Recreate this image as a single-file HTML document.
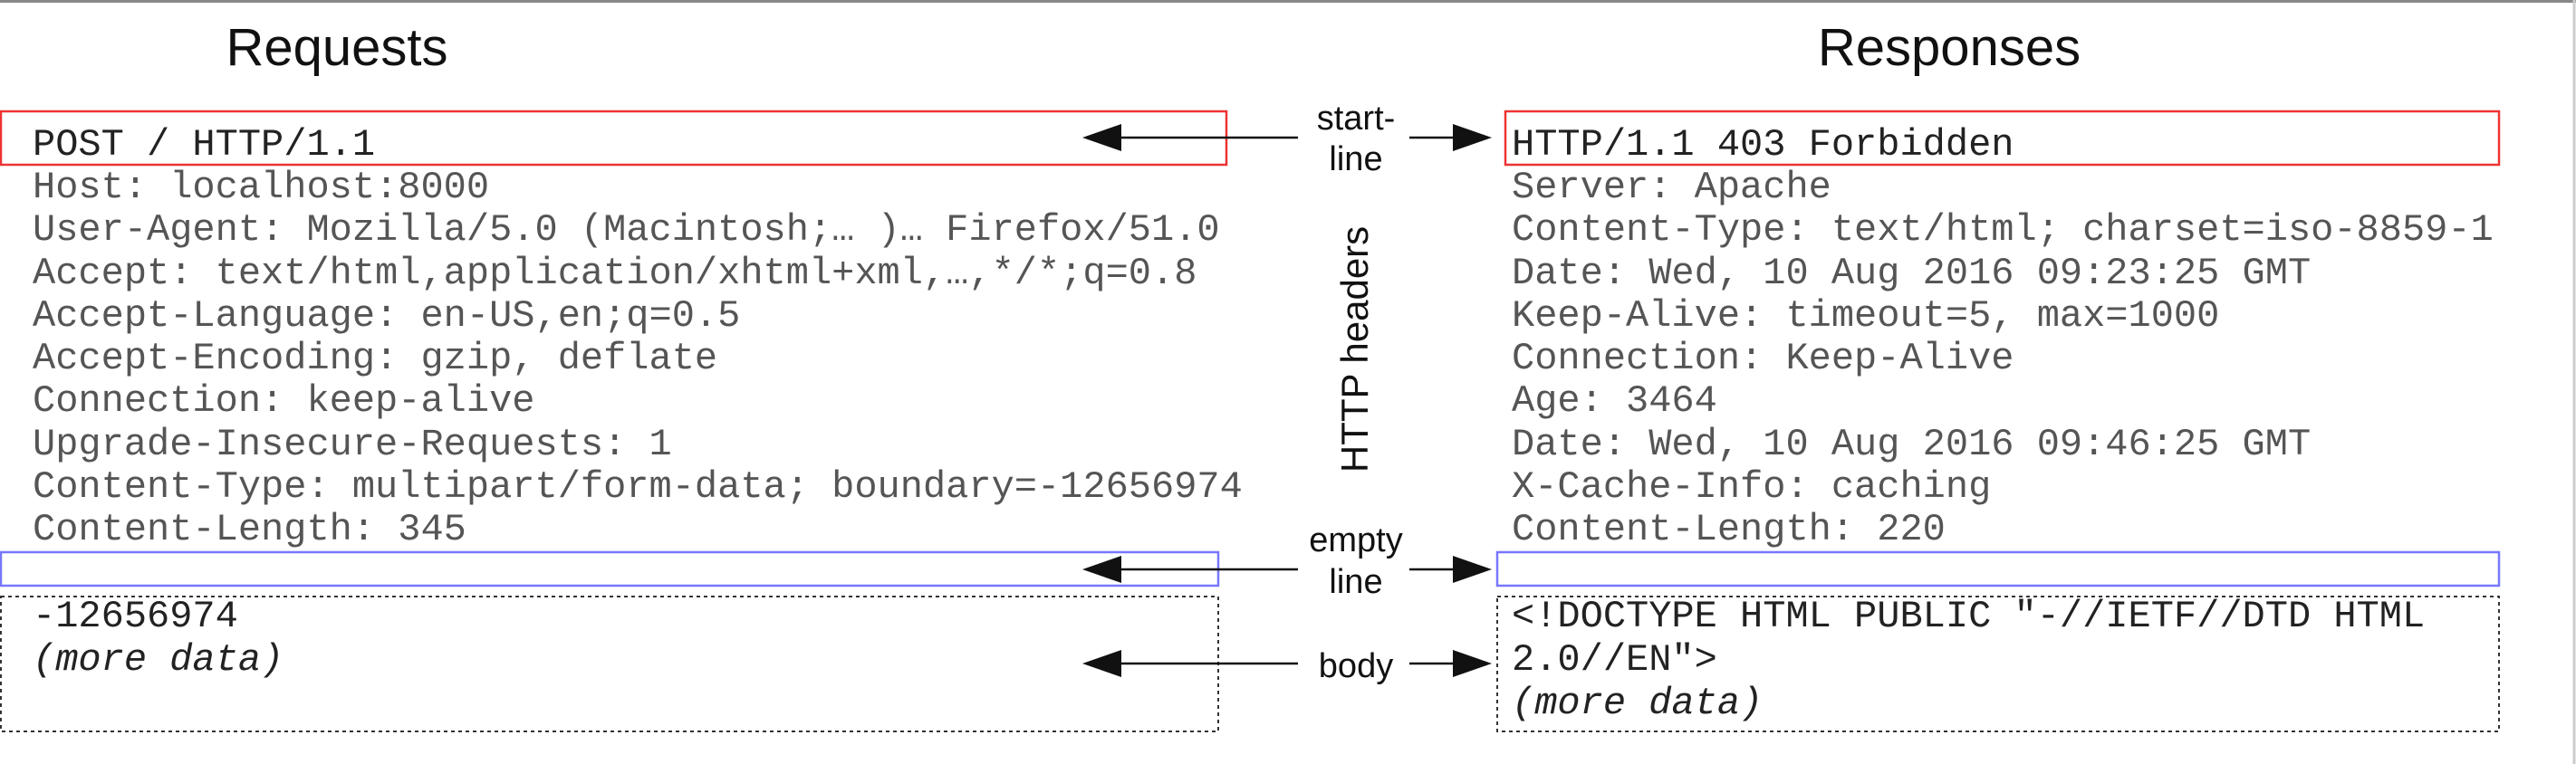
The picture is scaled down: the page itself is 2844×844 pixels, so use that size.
<!DOCTYPE html>
<html><head><meta charset="utf-8"><style>
html,body{margin:0;padding:0;background:#fff;}
svg{display:block;}
text{white-space:pre;}
.m{font-family:"Liberation Mono",monospace;font-size:42px;fill:#555;}
.d{fill:#222;}
.s{font-family:"Liberation Sans",sans-serif;fill:#111;}
</style></head><body>
<svg width="2844" height="844" viewBox="0 0 2844 844" xmlns="http://www.w3.org/2000/svg" xml:space="preserve">
<rect x="0" y="0" width="2844" height="844" fill="#fff"/>
<line x1="0" y1="1.5" x2="2844" y2="1.5" stroke="#888" stroke-width="3"/>
<line x1="2842" y1="0" x2="2842" y2="844" stroke="#ccc" stroke-width="3"/>
<text class="s" x="372" y="72" font-size="58" text-anchor="middle">Requests</text>
<text class="s" x="2152" y="72" font-size="58" text-anchor="middle">Responses</text>

<rect x="1" y="123" width="1353" height="59" fill="none" stroke="#e33" stroke-width="2.5"/>
<rect x="1662" y="123" width="1097" height="59" fill="none" stroke="#e33" stroke-width="2.5"/>
<rect x="1" y="610" width="1344" height="37" fill="none" stroke="#77f" stroke-width="2.5"/>
<rect x="1653" y="610" width="1106" height="37" fill="none" stroke="#77f" stroke-width="2.5"/>
<rect x="1" y="659" width="1344" height="149" fill="none" stroke="#333" stroke-width="2" stroke-dasharray="4,4"/>
<rect x="1653" y="659" width="1106" height="149" fill="none" stroke="#333" stroke-width="2" stroke-dasharray="4,4"/>

<g class="m">
<text class="m d" x="36" y="171">POST / HTTP/1.1</text>
<text x="36" y="218">Host: localhost:8000</text>
<text x="36" y="265">User-Agent: Mozilla/5.0 (Macintosh;… )… Firefox/51.0</text>
<text x="36" y="313">Accept: text/html,application/xhtml+xml,…,*/*;q=0.8</text>
<text x="36" y="360">Accept-Language: en-US,en;q=0.5</text>
<text x="36" y="407">Accept-Encoding: gzip, deflate</text>
<text x="36" y="454">Connection: keep-alive</text>
<text x="36" y="502">Upgrade-Insecure-Requests: 1</text>
<text x="36" y="549">Content-Type: multipart/form-data; boundary=-12656974</text>
<text x="36" y="596">Content-Length: 345</text>
<text class="m d" x="36" y="692">-12656974</text>
<text class="m d" x="36" y="740" font-style="italic">(more data)</text>

<text class="m d" x="1669" y="171">HTTP/1.1 403 Forbidden</text>
<text x="1669" y="218">Server: Apache</text>
<text x="1669" y="265">Content-Type: text/html; charset=iso-8859-1</text>
<text x="1669" y="313">Date: Wed, 10 Aug 2016 09:23:25 GMT</text>
<text x="1669" y="360">Keep-Alive: timeout=5, max=1000</text>
<text x="1669" y="407">Connection: Keep-Alive</text>
<text x="1669" y="454">Age: 3464</text>
<text x="1669" y="502">Date: Wed, 10 Aug 2016 09:46:25 GMT</text>
<text x="1669" y="549">X-Cache-Info: caching</text>
<text x="1669" y="596">Content-Length: 220</text>
<text class="m d" x="1669" y="692">&lt;!DOCTYPE HTML PUBLIC "-//IETF//DTD HTML</text>
<text class="m d" x="1669" y="740">2.0//EN"&gt;</text>
<text class="m d" x="1669" y="788" font-style="italic">(more data)</text>
</g>

<g class="s" font-size="38" text-anchor="middle">
<text x="1497" y="143">start-</text>
<text x="1497" y="188">line</text>
<text x="1497" y="609">empty</text>
<text x="1497" y="655">line</text>
<text x="1497" y="748">body</text>
<text transform="translate(1510,386) rotate(-90)" x="0" y="0" font-size="42">HTTP headers</text>
</g>

<g stroke="#111" stroke-width="2.5" fill="#111">
<line x1="1230" y1="152" x2="1433" y2="152"/>
<polygon points="1195,152 1238,137 1238,167" stroke="none"/>
<line x1="1556" y1="152" x2="1610" y2="152"/>
<polygon points="1647,152 1604,137 1604,167" stroke="none"/>
<line x1="1230" y1="629" x2="1433" y2="629"/>
<polygon points="1195,629 1238,614 1238,644" stroke="none"/>
<line x1="1556" y1="629" x2="1610" y2="629"/>
<polygon points="1647,629 1604,614 1604,644" stroke="none"/>
<line x1="1230" y1="733" x2="1433" y2="733"/>
<polygon points="1195,733 1238,718 1238,748" stroke="none"/>
<line x1="1556" y1="733" x2="1610" y2="733"/>
<polygon points="1647,733 1604,718 1604,748" stroke="none"/>
</g>
</svg>
</body></html>
